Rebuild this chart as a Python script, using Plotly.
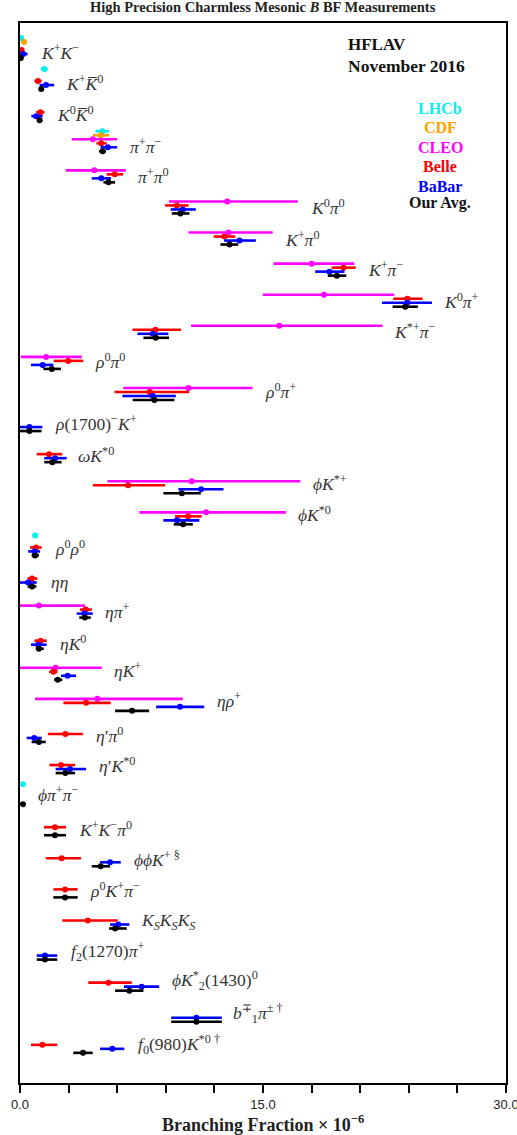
import plotly.graph_objects as go

# ---------------- data ----------------
decays = [
    "<i>K</i><sup>+</sup><i>K</i><sup>−</sup>",
    "<i>K</i><sup>+</sup><i>K̅</i><sup>0</sup>",
    "<i>K</i><sup>0</sup><i>K̅</i><sup>0</sup>",
    "<i>π</i><sup>+</sup><i>π</i><sup>−</sup>",
    "<i>π</i><sup>+</sup><i>π</i><sup>0</sup>",
    "<i>K</i><sup>0</sup><i>π</i><sup>0</sup>",
    "<i>K</i><sup>+</sup><i>π</i><sup>0</sup>",
    "<i>K</i><sup>+</sup><i>π</i><sup>−</sup>",
    "<i>K</i><sup>0</sup><i>π</i><sup>+</sup>",
    "<i>K</i><sup>*+</sup><i>π</i><sup>−</sup>",
    "<i>ρ</i><sup>0</sup><i>π</i><sup>0</sup>",
    "<i>ρ</i><sup>0</sup><i>π</i><sup>+</sup>",
    "<i>ρ</i>(1700)<sup>−</sup><i>K</i><sup>+</sup>",
    "<i>ωK</i><sup>*0</sup>",
    "<i>ϕK</i><sup>*+</sup>",
    "<i>ϕK</i><sup>*0</sup>",
    "<i>ρ</i><sup>0</sup><i>ρ</i><sup>0</sup>",
    "<i>ηη</i>",
    "<i>ηπ</i><sup>+</sup>",
    "<i>ηK</i><sup>0</sup>",
    "<i>ηK</i><sup>+</sup>",
    "<i>ηρ</i><sup>+</sup>",
    "<i>η</i>′<i>π</i><sup>0</sup>",
    "<i>η</i>′<i>K</i><sup>*0</sup>",
    "<i>ϕπ</i><sup>+</sup><i>π</i><sup>−</sup>",
    "<i>K</i><sup>+</sup><i>K</i><sup>−</sup><i>π</i><sup>0</sup>",
    "<i>ϕϕK</i><sup>+ §</sup>",
    "<i>ρ</i><sup>0</sup><i>K</i><sup>+</sup><i>π</i><sup>−</sup>",
    "<i>K</i><sub><i>S</i></sub><i>K</i><sub><i>S</i></sub><i>K</i><sub><i>S</i></sub>",
    "<i>f</i><sub>2</sub>(1270)<i>π</i><sup>+</sup>",
    "<i>ϕK</i><sup>*</sup><sub>2</sub>(1430)<sup>0</sup>",
    "<i>b</i><sup>∓</sup><sub>1</sub><i>π</i><sup>± †</sup>",
    "<i>f</i><sub>0</sub>(980)<i>K</i><sup>*0 †</sup>",
]
N = len(decays)

def col(d):
    v = [None] * N; lo = [None] * N; hi = [None] * N
    for i, (a, b, c) in d.items():
        v[i], lo[i], hi[i] = a, b, c
    return v, lo, hi

lhcb_val, lhcb_lo, lhcb_hi = col({0: (0.07, 0.03, 0.03), 1: (1.50, 0.22, 0.22), 3: (5.08, 0.42, 0.42),
                                   16: (0.94, 0.15, 0.15), 24: (0.18, 0.03, 0.03)})
cdf_val, cdf_lo, cdf_hi = col({0: (0.25, 0.12, 0.12), 3: (5.0, 0.5, 0.5)})
cleo_val, cleo_lo, cleo_hi = col({
    3: (4.5, 1.3, 1.5), 4: (4.59, 1.77, 1.94), 5: (12.79, 3.6, 4.36), 6: (12.87, 2.47, 2.73),
    7: (18.0, 2.35, 2.63), 8: (18.76, 3.77, 4.34), 9: (16.0, 5.44, 6.38), 10: (1.61, 1.57, 2.2),
    11: (10.4, 4.02, 3.95), 14: (10.6, 5.2, 6.7), 15: (11.49, 4.12, 4.92), 18: (1.17, 1.2, 2.84),
    20: (2.2, 2.2, 2.85), 21: (4.78, 3.85, 5.27)})
belle_val, belle_lo, belle_hi = col({
    0: (0.10, 0.08, 0.08), 1: (1.11, 0.22, 0.23), 2: (1.26, 0.26, 0.25), 3: (5.02, 0.3, 0.33),
    4: (5.85, 0.51, 0.52), 5: (9.68, 0.72, 0.72), 6: (12.62, 0.67, 0.67), 7: (19.97, 0.74, 0.75),
    8: (23.92, 0.88, 0.93), 9: (8.36, 1.42, 1.58), 10: (2.98, 0.9, 0.92), 11: (8.0, 2.17, 2.44),
    13: (1.79, 0.76, 0.82), 14: (6.67, 2.18, 2.29), 15: (10.38, 0.81, 0.84), 16: (0.99, 0.37, 0.35),
    17: (0.74, 0.28, 0.33), 18: (4.06, 0.36, 0.37), 19: (1.27, 0.38, 0.38), 20: (2.06, 0.26, 0.26),
    21: (4.08, 1.4, 1.52), 22: (2.8, 1.08, 1.08), 23: (2.53, 0.72, 0.87), 25: (2.16, 0.68, 0.68),
    26: (2.57, 0.98, 1.2), 27: (2.78, 0.72, 0.78), 28: (4.18, 1.57, 1.85), 30: (5.46, 1.24, 1.44),
    32: (1.38, 0.7, 0.92)})
babar_val, babar_lo, babar_hi = col({
    0: (0.2, 0.2, 0.27), 1: (1.61, 0.4, 0.5), 2: (1.0, 0.3, 0.4), 3: (5.42, 0.45, 0.58),
    4: (5.02, 0.59, 0.6), 5: (10.05, 0.75, 0.8), 6: (13.55, 0.95, 1.01), 7: (19.1, 0.88, 0.93),
    8: (23.9, 1.56, 1.53), 9: (8.2, 0.95, 0.96), 10: (1.4, 0.72, 0.66), 11: (8.19, 1.87, 1.43),
    12: (0.58, 0.58, 0.8), 13: (2.16, 0.66, 0.72), 14: (11.18, 1.4, 1.38), 15: (9.7, 0.85, 1.37),
    16: (0.9, 0.39, 0.34), 17: (0.5, 0.5, 0.53), 18: (3.97, 0.47, 0.52), 19: (1.12, 0.44, 0.53),
    20: (2.94, 0.41, 0.52), 21: (9.88, 1.48, 1.49), 22: (0.88, 0.47, 0.46), 23: (3.09, 0.89, 0.99),
    26: (5.56, 0.62, 0.66), 28: (6.07, 0.51, 0.68), 29: (1.54, 0.51, 0.76), 30: (7.51, 1.09, 1.08),
    31: (10.89, 1.56, 1.57), 32: (5.7, 0.76, 0.74)})
avg_val, avg_lo, avg_hi = col({
    0: (0.05, 0.03, 0.04), 1: (1.31, 0.15, 0.17), 2: (1.21, 0.16, 0.16), 3: (5.1, 0.22, 0.2),
    4: (5.46, 0.31, 0.41), 5: (9.9, 0.53, 0.56), 6: (12.93, 0.56, 0.54), 7: (19.56, 0.56, 0.58),
    8: (23.78, 0.78, 0.78), 9: (8.38, 0.76, 0.82), 10: (1.96, 0.52, 0.57), 11: (8.3, 1.34, 1.23),
    12: (0.58, 0.58, 0.75), 13: (2.0, 0.5, 0.57), 14: (9.99, 1.14, 1.17), 15: (10.07, 0.58, 0.6),
    16: (0.93, 0.21, 0.24), 17: (0.74, 0.27, 0.27), 18: (4.01, 0.35, 0.36), 19: (1.17, 0.2, 0.3),
    20: (2.33, 0.23, 0.28), 21: (6.92, 1.05, 1.05), 22: (1.17, 0.45, 0.42), 23: (2.8, 0.6, 0.6),
    24: (0.18, 0.03, 0.03), 25: (2.16, 0.68, 0.68), 26: (4.98, 0.55, 0.58), 27: (2.78, 0.72, 0.78),
    28: (5.87, 0.37, 0.72), 29: (1.54, 0.51, 0.76), 30: (6.75, 0.88, 0.87), 31: (10.89, 1.56, 1.57),
    32: (3.89, 0.6, 0.6)})

experiments = ["LHCb", "CDF", "CLEO", "Belle", "BaBar", "Our Avg."]

# ---------------- layout params ----------------
colors = ["#00f0f0", "#ff9f00", "#ff00ff", "#ff0000", "#0000ff", "#000000"]
row_px = 31.09
offsets = [-5 * 4 / row_px, -4 * 4 / row_px, -3 * 4 / row_px, -2 * 4 / row_px, -1 * 4 / row_px, 0.0]
label_x = [1.19, 2.72, 2.16, 6.65, 7.16, 17.81, 16.26, 21.37, 26.05, 22.96, 4.53, 15.03, 2.06, 3.46,
           17.96, 17.05, 2.06, 1.81, 5.15, 2.33, 5.7, 12.04, 4.57, 4.74, 0.97, 3.54, 6.9, 4.22, 7.37,
           3.03, 9.26, 13.03, 7.16]
label_dy_px = [-6, -6, -6.5, -5, -6, -6.5, -6, -7, -5.4, -7, -8, -9, -8, -7, -10, -10, -7, -4.5, -7,
               -6, -9.5, -10.6, -6.7, -7.8, -10, -6, -7.7, -7, -7, -8, -9.7, -8, -8.6]

series = [
    (lhcb_val, lhcb_lo, lhcb_hi),
    (cdf_val, cdf_lo, cdf_hi),
    (cleo_val, cleo_lo, cleo_hi),
    (belle_val, belle_lo, belle_hi),
    (babar_val, babar_lo, babar_hi),
    (avg_val, avg_lo, avg_hi),
]

fig = go.Figure()
for k, (name, (v, lo, hi)) in enumerate(zip(experiments, series)):
    ys = [i + offsets[k] for i in range(N)]
    fig.add_trace(go.Scatter(
        x=v, y=ys, mode="markers", name=name, showlegend=False,
        marker=dict(color=colors[k], size=6),
        error_x=dict(type="data", symmetric=False, array=hi, arrayminus=lo,
                     color=colors[k], thickness=2.6, width=0),
        cliponaxis=True, hoverinfo="skip",
    ))

serif = "Liberation Serif, Times New Roman, serif"
ann = []
for i, txt in enumerate(decays):
    ann.append(dict(x=label_x[i], y=i + label_dy_px[i] / row_px, xref="x", yref="y",
                    text=txt, showarrow=False, xanchor="left", yanchor="middle",
                    font=dict(family=serif, size=17.5, color="#333")))

# header / legend texts
ann.append(dict(x=20.14, y=(44 - 57.7) / row_px, xref="x", yref="y", text="<b>HFLAV</b>",
                showarrow=False, xanchor="left", yanchor="middle",
                font=dict(family=serif, size=17, color="#111")))
ann.append(dict(x=20.14, y=(66 - 57.7) / row_px, xref="x", yref="y", text="<b>November 2016</b>",
                showarrow=False, xanchor="left", yanchor="middle",
                font=dict(family=serif, size=17.5, color="#111")))
leg_y_px = [108.3, 127.3, 146.7, 166.0, 185.7, 202.3]
for k, name in enumerate(experiments):
    ann.append(dict(x=25.94, y=(leg_y_px[k] - 57.7) / row_px, xref="x", yref="y",
                    text="<b>%s</b>" % name, showarrow=False, xanchor="center", yanchor="middle",
                    font=dict(family=serif, size=16, color=colors[k] if k < 5 else "#111")))

ann.append(dict(x=0.5, y=1 + (23 - 7) / 1060, xref="paper", yref="paper",
                text="<b>High Precision Charmless Mesonic <i>B</i> BF Measurements</b>",
                showarrow=False, xanchor="center", yanchor="middle",
                font=dict(family=serif, size=14.5, color="#222")))
ann.append(dict(x=0.5, y=-(1123 - 1082.7) / 1060, xref="paper", yref="paper",
                text="<b>Branching Fraction × 10<sup>−6</sup></b>",
                showarrow=False, xanchor="center", yanchor="middle",
                font=dict(family=serif, size=18, color="#222")))

tickvals = [0, 3, 6, 9, 12, 15, 18, 21, 24, 27, 30]
ticktext = ["0.0", "", "", "", "", "15.0", "", "", "", "", "30.0"]

fig.update_layout(
    width=517, height=1135,
    margin=dict(l=20, r=11, t=23, b=52, autoexpand=False),
    paper_bgcolor="white", plot_bgcolor="white",
    annotations=ann,
    xaxis=dict(range=[0, 30], tickmode="array", tickvals=tickvals, ticktext=ticktext,
               ticks="outside", ticklen=8, tickwidth=1.5, tickcolor="black", automargin=False,
               ticklabeloverflow="allow",
               showline=True, linecolor="black", linewidth=2, mirror=True,
               showgrid=False, zeroline=False,
               tickfont=dict(family="Liberation Sans, Arial, sans-serif", size=13, color="#222")),
    yaxis=dict(range=[32.97, -1.126], showticklabels=False, ticks="", automargin=False,
               showline=True, linecolor="black", linewidth=2, mirror=True,
               showgrid=False, zeroline=False),
)

fig.write_html("out.html", config={"displayModeBar": False},
               post_script="document.body.style.margin='0';document.body.style.overflow='hidden';")
